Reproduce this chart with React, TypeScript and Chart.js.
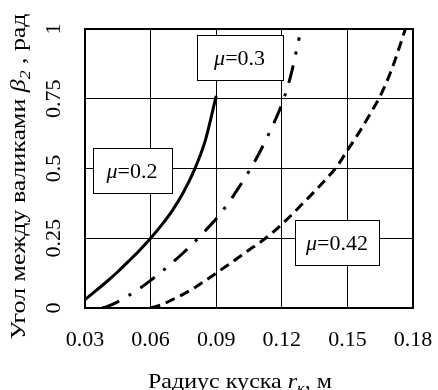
import React, { useEffect, useRef } from 'react';
import { Chart, registerables } from 'chart.js';

Chart.register(...registerables);

// ---- data ----
const X_TICKS = [0.03, 0.06, 0.09, 0.12, 0.15, 0.18];
const Y_TICKS = [0, 0.25, 0.5, 0.75, 1];

const MU02_X = [0.03, 0.035, 0.04, 0.045, 0.05, 0.055, 0.06, 0.065, 0.07, 0.075, 0.08, 0.085, 0.09];
const MU02_Y = [0.03, 0.062, 0.095, 0.13, 0.168, 0.207, 0.25, 0.297, 0.35, 0.415, 0.495, 0.6, 0.76];

const MU03_X = [0.038, 0.04, 0.045, 0.05, 0.055, 0.06, 0.065, 0.07, 0.075, 0.08, 0.085, 0.09, 0.095, 0.1, 0.105, 0.11, 0.115, 0.12, 0.124, 0.128];
const MU03_Y = [0, 0.005, 0.022, 0.045, 0.07, 0.099, 0.13, 0.163, 0.198, 0.236, 0.277, 0.32, 0.37, 0.428, 0.49, 0.56, 0.64, 0.73, 0.83, 0.97];

const MU042_X = [0.06, 0.065, 0.07, 0.075, 0.08, 0.085, 0.09, 0.095, 0.1, 0.105, 0.11, 0.115, 0.12, 0.125, 0.13, 0.135, 0.14, 0.145, 0.15, 0.155, 0.16, 0.165, 0.17, 0.174, 0.1765];
const MU042_Y = [0, 0.012, 0.03, 0.05, 0.072, 0.098, 0.125, 0.152, 0.18, 0.208, 0.235, 0.265, 0.3, 0.338, 0.378, 0.418, 0.46, 0.505, 0.565, 0.625, 0.69, 0.76, 0.85, 0.94, 1.0];

const SERIES_NAMES = ['0.2', '0.3', '0.42'];

// ---- annotation placement (data coordinates of label box centres) ----
const LABEL_AT = [
  { x: 0.0515, y: 0.493, w: 79 },
  { x: 0.1007, y: 0.898, w: 86 },
  { x: 0.1452, y: 0.233, w: 84 },
];

const FONT = "'Liberation Serif', 'Times New Roman', serif";

type Part = { t: string; i?: boolean; sub?: boolean };

function fontFor(p: Part, size: number) {
  const s = p.sub ? Math.round(size * 0.68) : size;
  return `${p.i ? 'italic ' : ''}${s}px ${FONT}`;
}

// draws mixed-style text centred on cx; if targetW is given, stretches along the text to that length
function drawRich(
  ctx: CanvasRenderingContext2D,
  parts: Part[],
  cx: number,
  baseY: number,
  size: number,
  targetW?: number
) {
  let total = 0;
  const ws = parts.map((p) => {
    ctx.font = fontFor(p, size);
    const w = ctx.measureText(p.t).width;
    total += w;
    return w;
  });
  const sx = targetW ? targetW / total : 1;
  ctx.save();
  ctx.translate(cx, baseY);
  ctx.scale(sx, 1);
  let x = -total / 2;
  ctx.textAlign = 'left';
  ctx.textBaseline = 'alphabetic';
  parts.forEach((p, k) => {
    ctx.font = fontFor(p, size);
    ctx.fillText(p.t, x, p.sub ? size * 0.22 : 0);
    x += ws[k];
  });
  ctx.restore();
}

const pts = (xs: number[], ys: number[]) => xs.map((x, i) => ({ x, y: ys[i] }));

const overlay = {
  id: 'overlay',
  afterDatasetsDraw(chart: any) {
    const { ctx, chartArea: a, scales } = chart;
    ctx.save();
    ctx.strokeStyle = '#000';
    ctx.lineWidth = 2;
    ctx.strokeRect(a.left, a.top, a.right - a.left, a.bottom - a.top);

    LABEL_AT.forEach((l, k) => {
      const px = scales.x.getPixelForValue(l.x);
      const py = scales.y.getPixelForValue(l.y);
      const h = 45;
      const bx = Math.round(px - l.w / 2) + 0.5;
      const by = Math.round(py - h / 2) + 0.5;
      ctx.fillStyle = '#fff';
      ctx.fillRect(bx, by, l.w, h);
      ctx.lineWidth = 1;
      ctx.strokeStyle = '#000';
      ctx.strokeRect(bx, by, l.w, h);
      ctx.fillStyle = '#000';
      drawRich(ctx, [{ t: 'μ', i: true }, { t: '=' + SERIES_NAMES[k] }], px, py + 7.5, 22);
    });
    ctx.restore();
  },
  afterDraw(chart: any) {
    const { ctx, scales } = chart;
    ctx.save();
    ctx.fillStyle = '#000';
    // rotated y tick labels
    scales.y.ticks.forEach((t: any) => {
      const py = scales.y.getPixelForValue(t.value);
      ctx.save();
      ctx.translate(60, py);
      ctx.rotate(-Math.PI / 2);
      ctx.font = `22px ${FONT}`;
      ctx.textAlign = 'center';
      ctx.textBaseline = 'alphabetic';
      ctx.fillText(String(t.value), 0, 0);
      ctx.restore();
    });
    // y title
    ctx.save();
    ctx.translate(25, 176.5);
    ctx.rotate(-Math.PI / 2);
    drawRich(
      ctx,
      [
        { t: 'Угол между валиками ' },
        { t: 'β', i: true },
        { t: '2', i: true, sub: true },
        { t: ' , рад' },
      ],
      0,
      0,
      22,
      326
    );
    ctx.restore();
    // x title
    drawRich(
      ctx,
      [{ t: 'Радиус куска ' }, { t: 'r', i: true }, { t: 'к', i: true, sub: true }, { t: ', м' }],
      240,
      388,
      22,
      184
    );
    ctx.restore();
  },
};

export default function App() {
  const ref = useRef<HTMLCanvasElement | null>(null);
  useEffect(() => {
    if (!ref.current) return;
    const chart = new Chart(ref.current, {
      type: 'scatter',
      data: {
        datasets: [
          {
            label: SERIES_NAMES[0],
            data: pts(MU02_X, MU02_Y),
            showLine: true,
            borderColor: '#000',
            borderWidth: 3,
            pointRadius: 0,
            cubicInterpolationMode: 'monotone',
          },
          {
            label: SERIES_NAMES[1],
            data: pts(MU03_X, MU03_Y),
            showLine: true,
            borderColor: '#000',
            borderWidth: 3,
            borderDash: [18, 11, 3, 11],
            pointRadius: 0,
            cubicInterpolationMode: 'monotone',
          },
          {
            label: SERIES_NAMES[2],
            data: pts(MU042_X, MU042_Y),
            showLine: true,
            borderColor: '#000',
            borderWidth: 3,
            borderDash: [10, 6],
            pointRadius: 0,
            cubicInterpolationMode: 'monotone',
          },
        ],
      },
      options: {
        responsive: false,
        animation: false,
        devicePixelRatio: 1,
        layout: { padding: { top: 29, right: 25, left: 0, bottom: 0 } },
        plugins: { legend: { display: false }, tooltip: { enabled: false } },
        scales: {
          x: {
            type: 'linear',
            min: X_TICKS[0],
            max: X_TICKS[X_TICKS.length - 1],
            afterBuildTicks: (s: any) => {
              s.ticks = X_TICKS.map((v) => ({ value: v }));
            },
            afterFit: (s: any) => {
              s.height = 82;
            },
            border: { display: false },
            grid: { color: '#000', lineWidth: 1, drawTicks: false },
            ticks: {
              color: '#000',
              padding: 0,
              font: { family: FONT, size: 22, lineHeight: '64.4px' },
              callback: (v: any) => Number(v).toFixed(2),
            },
          },
          y: {
            type: 'linear',
            min: Y_TICKS[0],
            max: Y_TICKS[Y_TICKS.length - 1],
            afterBuildTicks: (s: any) => {
              s.ticks = Y_TICKS.map((v) => ({ value: v }));
            },
            afterFit: (s: any) => {
              s.width = 85;
            },
            border: { display: false },
            grid: { color: '#000', lineWidth: 1, drawTicks: false },
            ticks: { display: false },
          },
        },
      },
      plugins: [overlay],
    } as any);
    return () => chart.destroy();
  }, []);
  return (
    <div style={{ position: 'fixed', left: 0, top: 0, width: 438, height: 390, background: '#fff' }}>
      <canvas ref={ref} width={438} height={390} />
    </div>
  );
}
